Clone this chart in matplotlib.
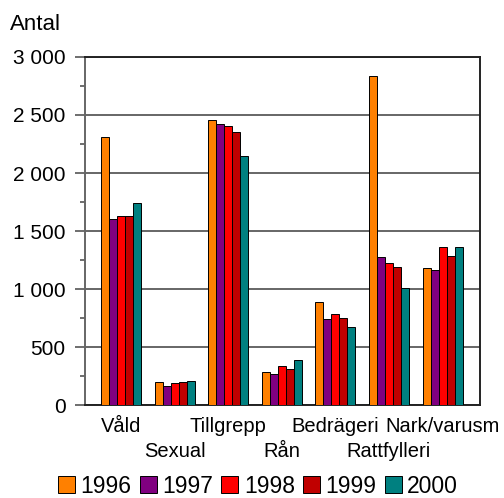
import matplotlib
matplotlib.use("Agg")
import matplotlib.pyplot as plt
import numpy as np
from matplotlib.ticker import FixedLocator

plt.rcParams['font.family'] = ['Liberation Sans', 'DejaVu Sans']

categories = ["Våld", "Sexual", "Tillgrepp", "Rån", "Bedrägeri", "Rattfylleri", "Nark/varusm"]
years = ["1996", "1997", "1998", "1999", "2000"]
v1996 = [2310, 195, 2460, 284, 885, 2836, 1184]
v1997 = [1600, 167, 2420, 267, 741, 1273, 1167]
v1998 = [1632, 192, 2408, 339, 782, 1224, 1365]
v1999 = [1629, 201, 2356, 308, 747, 1192, 1284]
v2000 = [1744, 210, 2147, 385, 675, 1006, 1365]
series = [v1996, v1997, v1998, v1999, v2000]
colors = ["#FF8000", "#800080", "#FF0000", "#C00000", "#008080"]
yticks = [0, 500, 1000, 1500, 2000, 2500, 3000]
ytick_labels = ["0", "500", "1 000", "1 500", "2 000", "2 500", "3 000"]

fig = plt.figure(figsize=(5.04, 4.98), dpi=100)
ax = fig.add_axes([85/504, 93/498, 395/504, 348/498])

x = np.arange(len(categories))
bw = 0.149
for i, (vals, c, y) in enumerate(zip(series, colors, years)):
    ax.bar(x + (i - 2) * bw, vals, width=bw, color=c, edgecolor="black",
           linewidth=0.7, label=y, zorder=3)

ax.set_xlim(-0.672, 6.698)
ax.set_ylim(0, 3000)
ax.set_yticks(yticks)
ax.set_yticklabels(ytick_labels, fontsize=15)
ax.yaxis.set_minor_locator(FixedLocator([250, 750, 1250, 1750, 2250, 2750]))
ax.tick_params(axis='y', which='major', length=7, width=1.2, color="#555555", pad=7)
ax.tick_params(axis='y', which='minor', length=3.5, width=1.2, color="#555555")
ax.grid(axis='y', which='major', color="#666666", linewidth=1.4, zorder=0)

ax.set_xticks(x)
ax.set_xticklabels([])
ax.tick_params(axis='x', length=0)
for i, c in enumerate(categories):
    dy = -21 if i % 2 == 0 else -46
    ax.annotate(c, xy=(i, 0), xycoords=('data', 'axes fraction'),
                xytext=(0, dy * 0.72), textcoords='offset points',
                ha='center', va='center', fontsize=14.5)

for s in ["top", "right", "bottom"]:
    ax.spines[s].set_color("#222222")
    ax.spines[s].set_linewidth(1.4)
ax.spines["left"].set_color("#666666")
ax.spines["left"].set_linewidth(1.4)

fig.text(10/504, 1 - 24/498, "Antal", fontsize=16, va="center", ha="left")

leg = fig.legend(loc="center", bbox_to_anchor=(258/504, 1 - 486/498), ncol=5,
                 fontsize=16.5, frameon=False, handlelength=0.74, handleheight=0.74,
                 handletextpad=0.25, columnspacing=0.35, borderaxespad=0, borderpad=0)

fig.savefig("out.png", dpi=100)
